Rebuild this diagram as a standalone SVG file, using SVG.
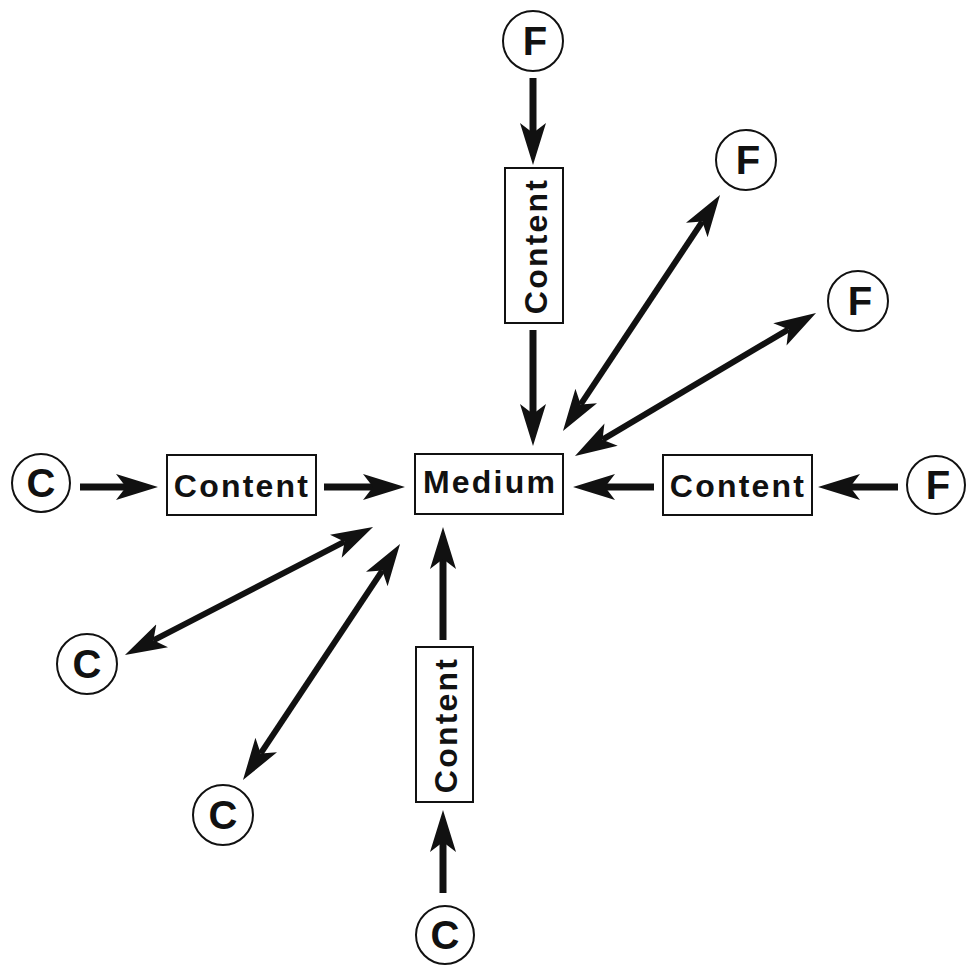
<svg xmlns="http://www.w3.org/2000/svg" width="967" height="965" viewBox="0 0 967 965">
<style>
.bg{fill:#ffffff}
.box{fill:#ffffff;stroke:#111;stroke-width:2}
.circ{fill:#ffffff;stroke:#111;stroke-width:2}
.lbl{font-family:"Liberation Sans",Arial,sans-serif;font-weight:bold;font-size:32px;letter-spacing:2.2px;fill:#111;text-anchor:middle}
.let{font-family:"Liberation Sans",Arial,sans-serif;font-weight:bold;font-size:40px;fill:#111;text-anchor:middle}
.arr{stroke:#111;stroke-width:7;fill:none;marker-end:url(#head)}
.dbl{stroke:#111;stroke-width:6;fill:none;marker-end:url(#head);marker-start:url(#head)}
</style>
<defs>
<marker id="head" markerUnits="userSpaceOnUse" viewBox="0 -14 44 28" refX="10" refY="0" markerWidth="44" markerHeight="28" orient="auto-start-reverse">
<path d="M0,-13 L42,0 L0,13 L10,0 Z" fill="#111"/>
</marker>
</defs>
<rect class="bg" x="0" y="0" width="967" height="965"/>
<g id="connectors">
<line class="arr" x1="533" y1="78" x2="533" y2="133"/>
<line class="arr" x1="533" y1="330" x2="533" y2="414"/>
<line class="arr" x1="80" y1="487" x2="126" y2="487"/>
<line class="arr" x1="324" y1="487" x2="373" y2="487"/>
<line class="arr" x1="898" y1="487" x2="850" y2="487"/>
<line class="arr" x1="654" y1="487" x2="605" y2="487"/>
<line class="arr" x1="443" y1="893" x2="443" y2="842"/>
<line class="arr" x1="443" y1="640" x2="443" y2="559"/>
<line class="dbl" x1="580.7" y1="404.4" x2="702.3" y2="221.6"/>
<line class="dbl" x1="602.5" y1="439.7" x2="788.5" y2="329.3"/>
<line class="dbl" x1="153.4" y1="640.3" x2="344.6" y2="541.7"/>
<line class="dbl" x1="260.7" y1="753.4" x2="382.3" y2="570.6"/>
</g>
<g id="medium">
<rect class="box" x="415" y="454" width="148" height="60"/>
<text class="lbl" x="490" y="493">Medium</text>
</g>
<g id="content-top">
<rect class="box" x="505" y="168" width="58" height="155"/>
<text class="lbl" transform="translate(535,246) rotate(-90)" x="0" y="11.5">Content</text>
</g>
<g id="content-left">
<rect class="box" x="167" y="455" width="149" height="60"/>
<text class="lbl" x="242" y="497">Content</text>
</g>
<g id="content-right">
<rect class="box" x="663" y="455" width="149" height="60"/>
<text class="lbl" x="738" y="497">Content</text>
</g>
<g id="content-bottom">
<rect class="box" x="416" y="647" width="57" height="155"/>
<text class="lbl" transform="translate(445,725) rotate(-90)" x="0" y="11.5">Content</text>
</g>
<g id="f-top">
<circle class="circ" cx="533" cy="41" r="30"/>
<text class="let" x="535" y="55">F</text>
</g>
<g id="f-upper-right">
<circle class="circ" cx="746" cy="160" r="30"/>
<text class="let" x="748" y="174">F</text>
</g>
<g id="f-right">
<circle class="circ" cx="858" cy="301" r="30"/>
<text class="let" x="860" y="315">F</text>
</g>
<g id="f-far-right">
<circle class="circ" cx="936" cy="485" r="29"/>
<text class="let" x="938" y="499">F</text>
</g>
<g id="c-left">
<circle class="circ" cx="41" cy="483" r="29"/>
<text class="let" x="41" y="497">C</text>
</g>
<g id="c-lower-left">
<circle class="circ" cx="87" cy="664" r="30"/>
<text class="let" x="87" y="678">C</text>
</g>
<g id="c-low">
<circle class="circ" cx="223" cy="815" r="30"/>
<text class="let" x="223" y="829">C</text>
</g>
<g id="c-bottom">
<circle class="circ" cx="445" cy="935" r="29"/>
<text class="let" x="445" y="949">C</text>
</g>
</svg>
